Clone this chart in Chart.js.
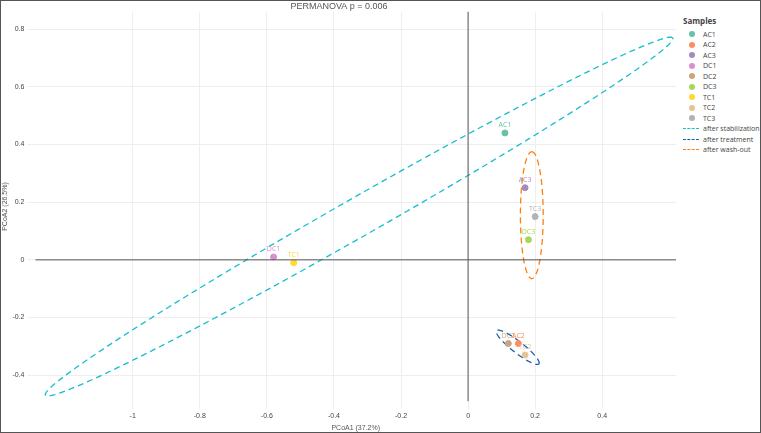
<!DOCTYPE html><html><head><script src="https://cdn.jsdelivr.net/npm/chart.js"></script>
<style>body{margin:0;background:#fff;font-family:"Open Sans",sans-serif}#w{position:relative;width:761px;height:433px;box-sizing:border-box;border:1px solid #555}
#lg{position:absolute;left:682px;top:14px;font-size:7px;color:#444;white-space:nowrap}#lg b{font-size:8px;display:block;margin-bottom:3px}#lg div{height:10.5px;display:flex;align-items:center}
#lg i{display:inline-block;width:6px;height:6px;border-radius:50%;margin:0 8px 0 6px}#lg s{display:inline-block;width:16px;height:0;border-top-width:1.5px;border-top-style:dashed;margin-right:4px;text-decoration:none}</style></head><body>
<div id="w"><canvas id="c" width="680" height="431"></canvas><div id="lg"></div></div>
<script>
const samples=["AC1","AC2","AC3","DC1","DC2","DC3","TC1","TC2","TC3"];
const pc1=[0.11,0.15,0.17,-0.58,0.12,0.18,-0.52,0.17,0.20];
const pc2=[0.44,-0.29,0.25,0.01,-0.29,0.07,-0.01,-0.33,0.15];
const colors=["#66c2a5","#fc8d62","#a48bbd","#d98fd0","#c9a47c","#a6d854","#ffd92f","#e5c494","#b3b3b3"];
const groups=["after stabilization","after treatment","after wash-out"];
const gColors=["#17becf","#1f5fa8","#ff7f0e"];
const eCx=[-0.325,0.148,0.19],eCy=[0.15,-0.303,0.155];
const eUx=[0.935,0.063,0.0],eUy=[0.62,-0.058,0.22];
const eVx=[-0.04,0.012,0.034],eVy=[0.05,0.014,0.0];
const ds=samples.map((s,i)=>({label:s,data:[{x:pc1[i],y:pc2[i]}],backgroundColor:colors[i],borderColor:colors[i],pointRadius:3}));
groups.forEach((g,k)=>{const pts=[];for(let j=0;j<=120;j++){const t=j/120*2*Math.PI;pts.push({x:eCx[k]+eUx[k]*Math.cos(t)+eVx[k]*Math.sin(t),y:eCy[k]+eUy[k]*Math.cos(t)+eVy[k]*Math.sin(t)});}
ds.push({label:g,data:pts,showLine:true,borderColor:gColors[k],borderDash:[6,4],borderWidth:1.3,pointRadius:0,fill:false});});
const lab={id:'lab',afterDatasetsDraw(c){const x=c.ctx,sx=c.scales.x,sy=c.scales.y;x.save();x.font='7px "Open Sans"';x.textAlign='center';
samples.forEach((s,i)=>{x.fillStyle=colors[i];x.fillText(s,sx.getPixelForValue(pc1[i]),sy.getPixelForValue(pc2[i])-6);});
x.strokeStyle='#555';x.lineWidth=1;x.beginPath();const x0=sx.getPixelForValue(0),y0=sy.getPixelForValue(0);x.moveTo(x0,sy.top);x.lineTo(x0,sy.bottom);x.moveTo(sx.left,y0);x.lineTo(sx.right,y0);x.stroke();x.restore();}};
const keep=a=>{a.ticks=a.ticks.filter(t=>Math.abs(Math.round(t.value*5)-t.value*5)<1e-6);};
const fmt=v=>Math.abs(v)<1e-9?'0':+v.toFixed(1);
new Chart(document.getElementById('c'),{type:'scatter',data:{datasets:ds},plugins:[lab],options:{responsive:false,animation:false,
layout:{padding:{top:0,right:4}},
plugins:{legend:{display:false},tooltip:{enabled:false},title:{display:true,text:'PERMANOVA p = 0.006',font:{size:9,weight:'normal'},color:'#555',padding:{top:0,bottom:0}}},
scales:{x:{min:-1.29,max:0.62,afterBuildTicks:keep,ticks:{stepSize:0.2,font:{size:7},color:'#444',callback:fmt},grid:{color:'#eee'},border:{display:false},title:{display:true,text:'PCoA1 (37.2%)',font:{size:7},color:'#555',padding:0}},
y:{min:-0.49,max:0.86,afterBuildTicks:keep,ticks:{stepSize:0.2,font:{size:7},color:'#444',callback:fmt},grid:{color:'#eee'},border:{display:false},title:{display:true,text:'PCoA2 (26.5%)',font:{size:7},color:'#555',padding:0}}}}});
document.getElementById('lg').innerHTML='<b>Samples</b>'+samples.map((s,i)=>`<div><i style="background:${colors[i]}"></i>${s}</div>`).join('')+groups.map((g,k)=>`<div><s style="border-top-color:${gColors[k]}"></s>${g}</div>`).join('');
</script></body></html>
